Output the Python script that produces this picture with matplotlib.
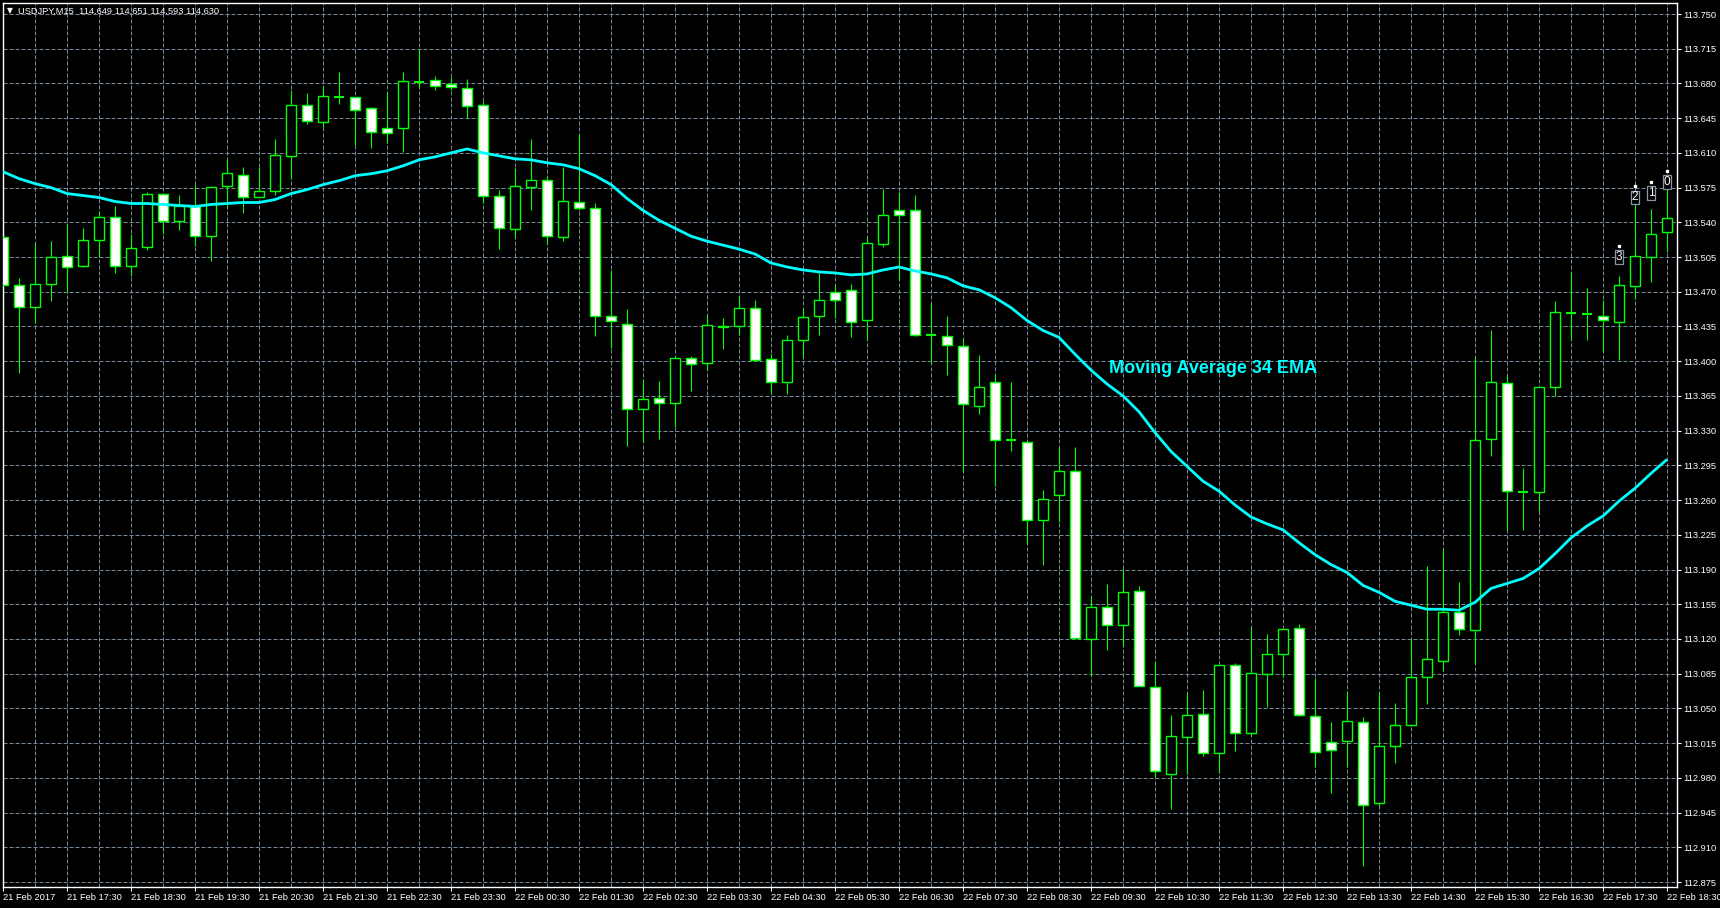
import matplotlib
matplotlib.use('Agg')
import matplotlib.pyplot as plt
import matplotlib.transforms as mtransforms
from matplotlib.patches import Rectangle
import numpy as np

# USDJPY M15 bars, 21 Feb 16:30 -> 22 Feb 18:30
opens = [113.525, 113.477, 113.455, 113.478, 113.506, 113.496, 113.522, 113.545, 113.496, 113.515,
         113.569, 113.541, 113.556, 113.526, 113.577, 113.588, 113.566, 113.572, 113.607, 113.658,
         113.641, 113.666, 113.666, 113.655, 113.635, 113.635, 113.681, 113.683, 113.679, 113.675,
         113.658, 113.567, 113.533, 113.576, 113.583, 113.525, 113.561, 113.554, 113.446, 113.438,
         113.352, 113.363, 113.358, 113.403, 113.398, 113.436, 113.435, 113.454, 113.402, 113.379,
         113.421, 113.446, 113.470, 113.472, 113.442, 113.518, 113.552, 113.552, 113.426, 113.425,
         113.415, 113.355, 113.379, 113.321, 113.319, 113.240, 113.265, 113.289, 113.120, 113.152,
         113.134, 113.168, 113.072, 112.984, 113.021, 113.044, 113.005, 113.094, 113.025, 113.085,
         113.105, 113.131, 113.042, 113.016, 113.017, 113.036, 112.955, 113.012, 113.033, 113.082,
         113.098, 113.147, 113.129, 113.322, 113.378, 113.268, 113.268, 113.374, 113.449, 113.448,
         113.446, 113.440, 113.476, 113.505, 113.530]
highs = [113.529, 113.484, 113.519, 113.521, 113.538, 113.534, 113.551, 113.556, 113.528, 113.571,
         113.570, 113.568, 113.578, 113.577, 113.604, 113.596, 113.596, 113.624, 113.673, 113.670,
         113.677, 113.692, 113.666, 113.656, 113.671, 113.692, 113.715, 113.688, 113.686, 113.684,
         113.662, 113.573, 113.595, 113.624, 113.587, 113.596, 113.629, 113.559, 113.492, 113.453,
         113.382, 113.380, 113.405, 113.405, 113.447, 113.444, 113.466, 113.462, 113.407, 113.426,
         113.453, 113.489, 113.477, 113.478, 113.524, 113.574, 113.571, 113.568, 113.459, 113.446,
         113.423, 113.406, 113.387, 113.379, 113.320, 113.270, 113.314, 113.314, 113.163, 113.175,
         113.191, 113.173, 113.098, 113.043, 113.066, 113.069, 113.094, 113.096, 113.132, 113.125,
         113.130, 113.135, 113.081, 113.036, 113.068, 113.041, 113.067, 113.055, 113.120, 113.194,
         113.211, 113.177, 113.404, 113.431, 113.386, 113.292, 113.374, 113.461, 113.490, 113.474,
         113.462, 113.486, 113.559, 113.553, 113.574]
lows = [113.432, 113.388, 113.439, 113.461, 113.469, 113.495, 113.505, 113.489, 113.486, 113.512,
        113.528, 113.532, 113.516, 113.501, 113.554, 113.549, 113.566, 113.568, 113.584, 113.639,
        113.636, 113.659, 113.618, 113.615, 113.620, 113.611, 113.675, 113.673, 113.673, 113.645,
        113.559, 113.513, 113.524, 113.552, 113.518, 113.521, 113.552, 113.425, 113.413, 113.315,
        113.319, 113.322, 113.334, 113.370, 113.391, 113.412, 113.426, 113.400, 113.368, 113.367,
        113.403, 113.426, 113.444, 113.424, 113.421, 113.515, 113.482, 113.425, 113.398, 113.386,
        113.288, 113.347, 113.274, 113.310, 113.216, 113.195, 113.238, 113.120, 113.083, 113.109,
        113.113, 113.073, 112.981, 112.949, 112.984, 113.002, 112.985, 113.007, 113.023, 113.051,
        113.082, 113.042, 112.991, 112.965, 112.991, 112.891, 112.952, 112.995, 113.032, 113.054,
        113.088, 113.124, 113.095, 113.304, 113.230, 113.230, 113.249, 113.365, 113.421, 113.421,
        113.409, 113.401, 113.463, 113.480, 113.510]
closes = [113.477, 113.455, 113.478, 113.505, 113.495, 113.522, 113.545, 113.496, 113.514, 113.569,
          113.541, 113.556, 113.526, 113.576, 113.590, 113.566, 113.572, 113.608, 113.658, 113.642,
          113.667, 113.666, 113.653, 113.631, 113.630, 113.682, 113.681, 113.677, 113.676, 113.657,
          113.567, 113.534, 113.577, 113.583, 113.526, 113.562, 113.554, 113.446, 113.441, 113.352,
          113.362, 113.358, 113.403, 113.397, 113.437, 113.434, 113.454, 113.401, 113.379, 113.421,
          113.445, 113.462, 113.462, 113.440, 113.519, 113.547, 113.547, 113.426, 113.426, 113.416,
          113.357, 113.374, 113.321, 113.321, 113.240, 113.261, 113.289, 113.121, 113.152, 113.134,
          113.167, 113.073, 112.987, 113.022, 113.043, 113.005, 113.094, 113.025, 113.086, 113.105,
          113.130, 113.043, 113.006, 113.008, 113.037, 112.953, 113.012, 113.033, 113.082, 113.100,
          113.147, 113.130, 113.321, 113.379, 113.269, 113.268, 113.374, 113.450, 113.449, 113.448,
          113.442, 113.477, 113.506, 113.528, 113.544]
ema34 = [113.591, 113.584, 113.579, 113.575, 113.569, 113.567, 113.565, 113.561, 113.559, 113.559,
         113.558, 113.557, 113.556, 113.558, 113.559, 113.560, 113.560, 113.563, 113.569, 113.573,
         113.578, 113.582, 113.587, 113.589, 113.592, 113.597, 113.603, 113.606, 113.610, 113.614,
         113.610, 113.607, 113.604, 113.603, 113.600, 113.598, 113.594, 113.587, 113.578, 113.564,
         113.552, 113.542, 113.534, 113.526, 113.521, 113.517, 113.513, 113.508, 113.499, 113.495,
         113.492, 113.490, 113.489, 113.487, 113.488, 113.492, 113.495, 113.491, 113.488, 113.484,
         113.476, 113.472, 113.464, 113.454, 113.441, 113.431, 113.424, 113.407, 113.391, 113.377,
         113.365, 113.349, 113.328, 113.309, 113.294, 113.279, 113.269, 113.255, 113.243, 113.236,
         113.230, 113.217, 113.205, 113.195, 113.187, 113.174, 113.167, 113.158, 113.154, 113.150,
         113.150, 113.149, 113.157, 113.171, 113.176, 113.181, 113.191, 113.206, 113.222, 113.234,
         113.244, 113.259, 113.272, 113.287, 113.301]

time_labels = ['21 Feb 2017', '21 Feb 17:30', '21 Feb 18:30', '21 Feb 19:30', '21 Feb 20:30',
               '21 Feb 21:30', '21 Feb 22:30', '21 Feb 23:30', '22 Feb 00:30', '22 Feb 01:30',
               '22 Feb 02:30', '22 Feb 03:30', '22 Feb 04:30', '22 Feb 05:30', '22 Feb 06:30',
               '22 Feb 07:30', '22 Feb 08:30', '22 Feb 09:30', '22 Feb 10:30', '22 Feb 11:30',
               '22 Feb 12:30', '22 Feb 13:30', '22 Feb 14:30', '22 Feb 15:30', '22 Feb 16:30',
               '22 Feb 17:30', '22 Feb 18:30']
price_ticks = [112.875, 112.910, 112.945, 112.980, 113.015, 113.050, 113.085, 113.120, 113.155,
               113.190, 113.225, 113.260, 113.295, 113.330, 113.365, 113.400, 113.435, 113.470,
               113.505, 113.540, 113.575, 113.610, 113.645, 113.680, 113.715, 113.750]
bar_tags = ['3', '2', '1', '0']
title_text = 'USDJPY,M15  114.649 114.651 114.593 114.630'

CANDLE = '#00ff00'
GRID = '#778899'
EMA_COLOR = '#00ffff'
W, H = 1720, 908

plt.rcParams['font.family'] = ['Liberation Sans', 'DejaVu Sans']

n = len(opens)
x = np.arange(n)

fig = plt.figure(figsize=(W / 100, H / 100), dpi=100, facecolor='black')
# plot frame: 2.7..1677.3 px wide, 2.7..886.7 px tall
ax = fig.add_axes([2.7 / W, 1 - 886.7 / H, (1677.3 - 2.7) / W, (886.7 - 2.7) / H])
ax.set_facecolor('black')

# wicks, then bodies on top
ax.vlines(x, lows, highs, color=CANDLE, lw=0.8, zorder=2)
bw = 0.6
for i in range(n):
    o, c = opens[i], closes[i]
    if abs(c - o) < 1e-9:
        ax.hlines(o, i - bw / 2, i + bw / 2, color=CANDLE, lw=1.5, zorder=3)
        continue
    face = 'black' if c > o else 'white'
    ax.add_patch(Rectangle((i - bw / 2, min(o, c)), bw, abs(c - o),
                           facecolor=face, edgecolor=CANDLE, lw=1.0, zorder=3))

ax.plot(x, ema34, color=EMA_COLOR, lw=2.0, zorder=4, solid_capstyle='butt')

ax.set_xlim(-0.025, 104.64)
ax.set_ylim(112.8703, 113.7614)

ax.yaxis.tick_right()
ax.set_yticks(price_ticks)
ax.set_yticklabels([f'{p:.3f}' for p in price_ticks])
ax.set_xticks(x[::4])
ax.set_xticklabels(time_labels, ha='left')
ax.set_xticks(x[2::4], minor=True)
ax.tick_params(axis='both', which='major', colors='white', labelcolor='white',
               labelsize=6.7, length=3, width=0.8, pad=1.5)
ax.tick_params(axis='x', which='minor', length=0)
ax.grid(True, which='both', color=GRID, lw=0.72, ls=(0, (4, 2)))
ax.set_axisbelow(True)
for s in ax.spines.values():
    s.set_color('white')
    s.set_linewidth(1.0)

# header and indicator caption
fig.text(6.5 / W, 1 - 11 / H, '\u25bc', color='white', fontsize=5.5,
         family='DejaVu Sans', va='center', ha='left')
fig.text(18.3 / W, 1 - 11 / H, title_text, color='white', fontsize=6.7, va='center', ha='left')
fig.text(1109 / W, 1 - 368.5 / H, 'Moving Average 34 EMA', color=EMA_COLOR,
         fontsize=13, fontweight='bold', va='center', ha='left')

# bar counters above the last four candles
tag_offsets = [19, 6, 16, 7]
for tag, off in zip(bar_tags, tag_offsets):
    idx = n - 1 - int(tag)
    tr = mtransforms.offset_copy(ax.transData, fig=fig, x=0, y=off, units='dots')
    ax.text(idx, highs[idx], tag, transform=tr, ha='center', va='center', color='white',
            fontsize=8.5, zorder=6,
            bbox=dict(boxstyle='square,pad=0.08', fc='black', ec='#8796a8', lw=0.9))
    tr2 = mtransforms.offset_copy(ax.transData, fig=fig, x=0, y=off + 11, units='dots')
    ax.plot(idx, highs[idx], marker='s', ms=2.0, color='white', transform=tr2,
            zorder=7, clip_on=False)

fig.savefig('out.png', dpi=100, facecolor='black')
